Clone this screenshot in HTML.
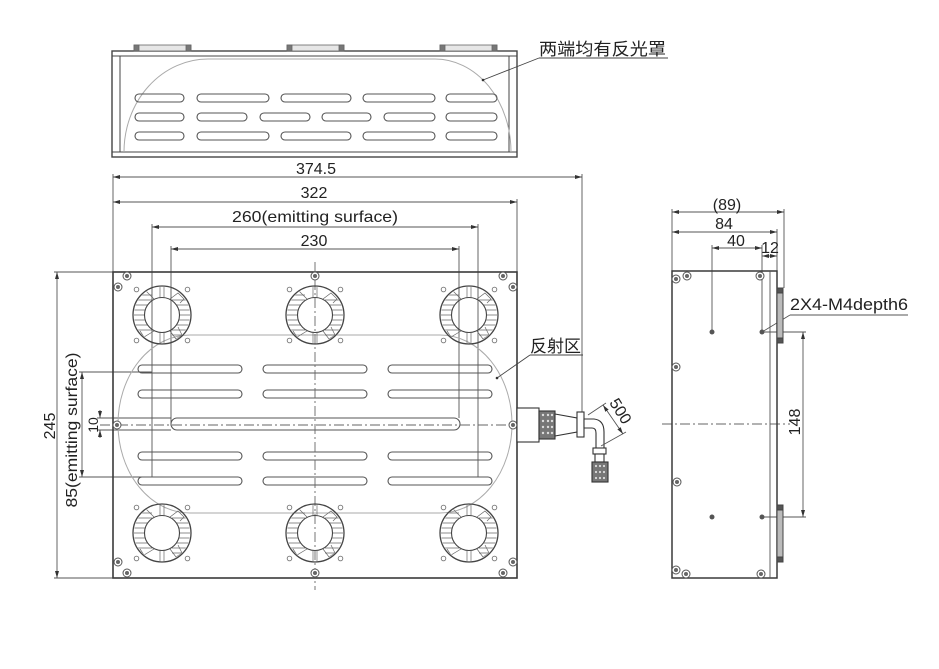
<!DOCTYPE html>
<html><head><meta charset="utf-8"><style>
html,body{margin:0;padding:0;background:#fff;}
svg{display:block;}
.t{font-family:"Liberation Sans",Arial,sans-serif;fill:#222;}
.c{font-family:"Liberation Sans","Noto Sans CJK SC","WenQuanYi Zen Hei",sans-serif;fill:#222;}
</style></head><body>
<svg width="939" height="669" viewBox="0 0 939 669" xmlns="http://www.w3.org/2000/svg">
<defs>
<marker id="ar" markerUnits="userSpaceOnUse" markerWidth="7" markerHeight="4" refX="7" refY="2" orient="auto-start-reverse"><path d="M0,0 L7,2 L0,4 z" fill="#333"/></marker>
<clipPath id="ring"><path clip-rule="evenodd" d="M-28,0 a28,28 0 1,0 56,0 a28,28 0 1,0 -56,0 Z M-17.5,0 a17.5,17.5 0 1,0 35,0 a17.5,17.5 0 1,0 -35,0 Z"/></clipPath>
<g id="fan">
<g clip-path="url(#ring)" stroke="#666" stroke-width="0.7">
<line x1="-30" y1="-20" x2="-10" y2="-20"/><line x1="-30" y1="-15" x2="-10" y2="-15"/><line x1="-30" y1="-10" x2="-10" y2="-10"/><line x1="-30" y1="-5" x2="-10" y2="-5"/><line x1="-30" y1="0" x2="-10" y2="0"/><line x1="-30" y1="5" x2="-10" y2="5"/><line x1="-30" y1="10" x2="-10" y2="10"/><line x1="-30" y1="15" x2="-10" y2="15"/>
<line x1="10" y1="-15" x2="30" y2="-15"/><line x1="10" y1="-10" x2="30" y2="-10"/><line x1="10" y1="-5" x2="30" y2="-5"/><line x1="10" y1="0" x2="30" y2="0"/><line x1="10" y1="5" x2="30" y2="5"/><line x1="10" y1="10" x2="30" y2="10"/><line x1="10" y1="15" x2="30" y2="15"/><line x1="10" y1="20" x2="30" y2="20"/>
<line x1="-2" y1="-30" x2="-2" y2="-15"/><line x1="2" y1="-30" x2="2" y2="-15"/>
<line x1="-2" y1="30" x2="-2" y2="15"/><line x1="2" y1="30" x2="2" y2="15"/>
<path d="M-8,-16 L-16,-24 L-12,-28" fill="none"/><path d="M8,-16 L16,-22 L22,-16 L18,-12" fill="none"/>
<path d="M-8,16 L-18,22 L-22,16" fill="none"/><path d="M8,16 L14,24 L20,20 L16,12" fill="none"/>
</g>
<circle r="29" fill="none" stroke="#444" stroke-width="1.3"/>
<circle r="17.5" fill="none" stroke="#444" stroke-width="1.1"/>
<g fill="#fff" stroke="#777" stroke-width="0.9">
<circle cx="-25.5" cy="-25.5" r="2.3"/><circle cx="25.5" cy="-25.5" r="2.3"/><circle cx="-25.5" cy="25.5" r="2.3"/><circle cx="25.5" cy="25.5" r="2.3"/>
</g>
</g>
<g id="scr"><circle r="4" fill="#fff" stroke="#555" stroke-width="1"/><circle r="2" fill="#666"/></g>
</defs>

<!-- ============ TOP VIEW ============ -->
<g fill="none" stroke="#444" stroke-width="1.4">
<rect x="112" y="51" width="405" height="106"/>
<line x1="112" y1="56" x2="517" y2="56" stroke-width="1"/>
<line x1="120" y1="56" x2="120" y2="152" stroke-width="1"/>
<line x1="509" y1="56" x2="509" y2="152" stroke-width="1"/>
<line x1="112" y1="152" x2="517" y2="152" stroke-width="1"/>
</g>
<g stroke="#666" stroke-width="0.8">
<rect x="134" y="45" width="57" height="6" fill="#e6e6e6"/><rect x="134" y="45" width="5" height="6" fill="#777"/><rect x="186" y="45" width="5" height="6" fill="#777"/>
<rect x="287" y="45" width="57" height="6" fill="#e6e6e6"/><rect x="287" y="45" width="5" height="6" fill="#777"/><rect x="339" y="45" width="5" height="6" fill="#777"/>
<rect x="440" y="45" width="57" height="6" fill="#e6e6e6"/><rect x="440" y="45" width="5" height="6" fill="#777"/><rect x="492" y="45" width="5" height="6" fill="#777"/>
</g>
<path d="M124,152 A84,93 0 0 1 208,59 L435,59 A76,93 0 0 1 511,152" fill="none" stroke="#aaa" stroke-width="1"/>
<g fill="none" stroke="#555" stroke-width="1.1">
<rect x="135" y="94" width="49" height="8" rx="4"/><rect x="197" y="94" width="72" height="8" rx="4"/><rect x="281" y="94" width="70" height="8" rx="4"/><rect x="363" y="94" width="72" height="8" rx="4"/><rect x="446" y="94" width="51" height="8" rx="4"/>
<rect x="135" y="113" width="49" height="8" rx="4"/><rect x="197" y="113" width="50" height="8" rx="4"/><rect x="260" y="113" width="50" height="8" rx="4"/><rect x="322" y="113" width="49" height="8" rx="4"/><rect x="384" y="113" width="51" height="8" rx="4"/><rect x="446" y="113" width="51" height="8" rx="4"/>
<rect x="135" y="132" width="49" height="8" rx="4"/><rect x="197" y="132" width="72" height="8" rx="4"/><rect x="281" y="132" width="70" height="8" rx="4"/><rect x="363" y="132" width="72" height="8" rx="4"/><rect x="446" y="132" width="51" height="8" rx="4"/>
</g>
<g stroke="#444" stroke-width="0.9" fill="none">
<line x1="483" y1="80" x2="539" y2="58"/><line x1="539" y1="58" x2="668" y2="58"/>
</g>
<circle cx="483" cy="80" r="1.3" fill="#333"/>
<text class="c" x="539" y="55" font-size="17" textLength="127" lengthAdjust="spacingAndGlyphs">两端均有反光罩</text>

<!-- ============ MAIN VIEW ============ -->
<g stroke="#555" stroke-width="0.9" fill="none">
<line x1="113" y1="177" x2="582" y2="177" marker-start="url(#ar)" marker-end="url(#ar)"/>
<line x1="113" y1="202" x2="517" y2="202" marker-start="url(#ar)" marker-end="url(#ar)"/>
<line x1="152" y1="227" x2="478" y2="227" marker-start="url(#ar)" marker-end="url(#ar)"/>
<line x1="171" y1="249" x2="459" y2="249" marker-start="url(#ar)" marker-end="url(#ar)"/>
<line x1="113" y1="174" x2="113" y2="272"/>
<line x1="582" y1="174" x2="582" y2="413"/>
<line x1="517" y1="199" x2="517" y2="272"/>
<line x1="152" y1="224" x2="152" y2="477"/>
<line x1="478" y1="224" x2="478" y2="477"/>
<line x1="171" y1="246" x2="171" y2="424"/>
<line x1="459" y1="246" x2="459" y2="418"/>
<line x1="57" y1="272" x2="57" y2="578" marker-start="url(#ar)" marker-end="url(#ar)"/>
<line x1="54" y1="272" x2="113" y2="272"/>
<line x1="54" y1="578" x2="113" y2="578"/>
<line x1="82" y1="372" x2="82" y2="477" marker-start="url(#ar)" marker-end="url(#ar)"/>
<line x1="79" y1="372" x2="152" y2="372"/>
<line x1="79" y1="477" x2="152" y2="477"/>
<line x1="97" y1="418" x2="171" y2="418"/>
<line x1="97" y1="430" x2="171" y2="430"/>
<line x1="100" y1="410" x2="100" y2="418" marker-end="url(#ar)"/>
<line x1="100" y1="438" x2="100" y2="430" marker-end="url(#ar)"/>
</g>
<text class="t" x="316" y="174" font-size="16" text-anchor="middle">374.5</text>
<text class="t" x="314" y="198" font-size="16" text-anchor="middle">322</text>
<text class="t" x="315" y="222" font-size="16" text-anchor="middle" textLength="166" lengthAdjust="spacingAndGlyphs">260(emitting surface)</text>
<text class="t" x="314" y="246" font-size="16" text-anchor="middle">230</text>
<text class="t" transform="translate(55,426) rotate(-90)" font-size="16" text-anchor="middle">245</text>
<text class="t" transform="translate(77,430) rotate(-90)" font-size="16" text-anchor="middle" textLength="155" lengthAdjust="spacingAndGlyphs">85(emitting surface)</text>
<text class="t" transform="translate(98,425) rotate(-90)" font-size="14" text-anchor="middle">10</text>

<rect x="113" y="272" width="404" height="306" fill="none" stroke="#3a3a3a" stroke-width="1.6"/>
<rect x="118" y="335" width="394" height="178" rx="72" ry="89" fill="none" stroke="#aaa" stroke-width="1"/>
<g fill="none" stroke="#555" stroke-width="1.1">
<rect x="138" y="365" width="104" height="8" rx="4"/><rect x="263" y="365" width="104" height="8" rx="4"/><rect x="388" y="365" width="104" height="8" rx="4"/>
<rect x="138" y="390" width="104" height="8" rx="4"/><rect x="263" y="390" width="104" height="8" rx="4"/><rect x="388" y="390" width="104" height="8" rx="4"/>
<rect x="138" y="452" width="104" height="8" rx="4"/><rect x="263" y="452" width="104" height="8" rx="4"/><rect x="388" y="452" width="104" height="8" rx="4"/>
<rect x="138" y="477" width="104" height="8" rx="4"/><rect x="263" y="477" width="104" height="8" rx="4"/><rect x="388" y="477" width="104" height="8" rx="4"/>
<rect x="171" y="418" width="289" height="12" rx="6"/>
</g>
<g stroke="#666" stroke-width="0.9" stroke-dasharray="10,3,2,3" fill="none">
<line x1="100" y1="425" x2="530" y2="425"/>
<line x1="315" y1="262" x2="315" y2="590"/>
<line x1="662" y1="424" x2="790" y2="424"/>
</g>
<use href="#fan" x="162" y="315"/><use href="#fan" x="315" y="315"/><use href="#fan" x="469" y="315"/>
<use href="#fan" x="162" y="533"/><use href="#fan" x="315" y="533"/><use href="#fan" x="469" y="533"/>
<use href="#scr" x="127" y="276"/><use href="#scr" x="118" y="287"/><use href="#scr" x="315" y="276"/>
<use href="#scr" x="503" y="276"/><use href="#scr" x="513" y="287"/>
<use href="#scr" x="118" y="562"/><use href="#scr" x="127" y="573"/><use href="#scr" x="315" y="573"/>
<use href="#scr" x="503" y="573"/><use href="#scr" x="513" y="562"/>
<use href="#scr" x="117" y="425"/><use href="#scr" x="513" y="425"/>

<g stroke="#444" stroke-width="0.9" fill="none">
<line x1="497" y1="378" x2="530" y2="355"/><line x1="530" y1="355" x2="583" y2="355"/>
</g>
<circle cx="497" cy="378" r="1.3" fill="#333"/>
<text class="c" x="530" y="352" font-size="17" textLength="51" lengthAdjust="spacingAndGlyphs">反射区</text>

<g stroke="#333" stroke-width="1.1">
<rect x="517" y="408" width="22" height="34" fill="#fff"/>
<rect x="539" y="411" width="16" height="28" fill="#777"/>
<path d="M555,414 L577,418 L577,432 L555,436 Z" fill="#fff"/>
<rect x="577" y="412" width="7" height="25" fill="#fff"/>
<path d="M584,419 L594,419 Q604,420 604,432 L604,448 L596,448 L596,433 Q596,428 592,428 L584,428 Z" fill="#fff"/>
<rect x="593" y="448" width="13" height="6" fill="#fff"/>
<rect x="595" y="454" width="9" height="8" fill="#fff"/>
<rect x="592" y="462" width="16" height="20" fill="#777"/>
</g>
<g fill="#ddd">
<circle cx="543" cy="415" r="1.2"/><circle cx="548" cy="415" r="1.2"/><circle cx="552" cy="415" r="1.2"/>
<circle cx="543" cy="421" r="1.2"/><circle cx="548" cy="421" r="1.2"/><circle cx="552" cy="421" r="1.2"/>
<circle cx="543" cy="427" r="1.2"/><circle cx="548" cy="427" r="1.2"/><circle cx="552" cy="427" r="1.2"/>
<circle cx="543" cy="433" r="1.2"/><circle cx="548" cy="433" r="1.2"/><circle cx="552" cy="433" r="1.2"/>
<circle cx="596" cy="466" r="1.1"/><circle cx="600" cy="466" r="1.1"/><circle cx="604" cy="466" r="1.1"/>
<circle cx="596" cy="472" r="1.1"/><circle cx="600" cy="472" r="1.1"/><circle cx="604" cy="472" r="1.1"/>
<circle cx="596" cy="478" r="1.1"/><circle cx="600" cy="478" r="1.1"/><circle cx="604" cy="478" r="1.1"/>
</g>
<g stroke="#555" stroke-width="0.9" fill="none">
<line x1="588" y1="415" x2="606" y2="403"/>
<line x1="601" y1="446" x2="626" y2="432"/>
<line x1="603" y1="405" x2="623" y2="434" marker-start="url(#ar)" marker-end="url(#ar)"/>
</g>
<text class="t" transform="translate(616,414) rotate(58)" font-size="16" text-anchor="middle">500</text>

<!-- ============ SIDE VIEW ============ -->
<g stroke="#555" stroke-width="0.9" fill="none">
<line x1="672" y1="212" x2="784" y2="212" marker-start="url(#ar)" marker-end="url(#ar)"/>
<line x1="672" y1="232" x2="777" y2="232" marker-start="url(#ar)" marker-end="url(#ar)"/>
<line x1="712" y1="248" x2="762" y2="248" marker-start="url(#ar)" marker-end="url(#ar)"/>
<line x1="762" y1="256" x2="777" y2="256" marker-start="url(#ar)" marker-end="url(#ar)"/>
<line x1="672" y1="209" x2="672" y2="271"/>
<line x1="784" y1="209" x2="784" y2="288"/>
<line x1="777" y1="229" x2="777" y2="271"/>
<line x1="712" y1="245" x2="712" y2="332"/>
<line x1="762" y1="245" x2="762" y2="332"/>
<line x1="762" y1="332" x2="806" y2="332"/>
<line x1="762" y1="517" x2="806" y2="517"/>
<line x1="803" y1="332" x2="803" y2="517" marker-start="url(#ar)" marker-end="url(#ar)"/>
<line x1="762" y1="332" x2="790" y2="315"/>
<line x1="790" y1="315" x2="908" y2="315"/>
</g>
<text class="t" x="727" y="210" font-size="16" text-anchor="middle">(89)</text>
<text class="t" x="724" y="229" font-size="16" text-anchor="middle">84</text>
<text class="t" x="736" y="246" font-size="16" text-anchor="middle">40</text>
<text class="t" x="770" y="253" font-size="16" text-anchor="middle">12</text>
<text class="t" x="790" y="310" font-size="17" textLength="118" lengthAdjust="spacingAndGlyphs">2X4-M4depth6</text>
<text class="t" transform="translate(800,422) rotate(-90)" font-size="16" text-anchor="middle">148</text>

<rect x="672" y="271" width="105" height="307" fill="none" stroke="#3a3a3a" stroke-width="1.5"/>
<line x1="770" y1="271" x2="770" y2="578" stroke="#555" stroke-width="0.9"/>
<g stroke="#444" stroke-width="1">
<rect x="777" y="288" width="6" height="55" fill="#bbb"/>
<rect x="777" y="505" width="6" height="57" fill="#bbb"/>
<rect x="777" y="288" width="6" height="5" fill="#555"/><rect x="777" y="338" width="6" height="5" fill="#555"/>
<rect x="777" y="505" width="6" height="5" fill="#555"/><rect x="777" y="557" width="6" height="5" fill="#555"/>
</g>
<g fill="#555">
<circle cx="712" cy="332" r="2.5"/><circle cx="762" cy="332" r="2.5"/>
<circle cx="712" cy="517" r="2.5"/><circle cx="762" cy="517" r="2.5"/>
</g>
<use href="#scr" x="676" y="279"/><use href="#scr" x="687" y="276"/><use href="#scr" x="760" y="276"/>
<use href="#scr" x="676" y="367"/><use href="#scr" x="677" y="482"/>
<use href="#scr" x="676" y="570"/><use href="#scr" x="686" y="574"/><use href="#scr" x="761" y="574"/>
</svg>
</body></html>
